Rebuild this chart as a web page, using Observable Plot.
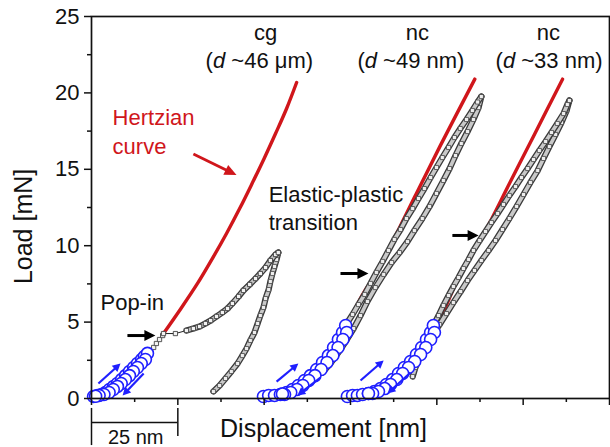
<!DOCTYPE html>
<html><head><meta charset="utf-8">
<script src="https://cdn.jsdelivr.net/npm/d3@7"></script>
<script src="https://cdn.jsdelivr.net/npm/@observablehq/plot@0.6"></script>
<style>html,body{margin:0;padding:0;background:#fff}</style>
</head><body><div id="chart"></div>
<script>
// ---------- data (displacement nm, load mN) ----------
const xTicks = [0, 25, 50, 75, 100, 125, 150];
const xMinorTicks = [12.5, 37.5, 62.5, 87.5, 112.5, 137.5];
const yTicks = [0, 5, 10, 15, 20, 25];
const yMinorTicks = [2.5, 7.5, 12.5, 17.5, 22.5];

// cg (d~46 µm)
const cgBlueLoad = [[0.6,0.13],[1.7,0.2],[2.9,0.26],[4.05,0.39],[5.2,0.59],[6.4,0.79],[7.5,0.98],[8.7,1.24],[9.85,1.5],[11.0,1.77],[12.2,2.03],[13.3,2.29],[14.5,2.55],[15.3,2.75],[16.2,2.95]];
const cgBlueUnload = [[15.6,2.55],[14.4,2.29],[13.3,2.03],[12.1,1.77],[11.0,1.5],[9.8,1.24],[8.6,0.98],[7.5,0.79],[6.3,0.59],[5.1,0.39],[3.6,0.26],[2.2,0.2],[1.2,0.15]];
const cgLoad = [[16.2,2.95],[17.1,3.14],[18.0,3.34],[18.8,3.6],[19.7,3.86],[20.6,4.12],[20.85,4.25],[24.3,4.25],[27.5,4.45],[29.5,4.58],[31.3,4.71],[33.0,4.91],[34.5,5.1],[36.2,5.37],[37.9,5.63],[39.4,5.89],[40.8,6.22],[42.6,6.68],[44.0,7.07],[45.8,7.46],[47.5,7.85],[48.9,8.18],[50.4,8.57],[51.8,9.03],[53.3,9.42],[54.1,9.55]];
const cgUnload = [[54.1,9.55],[53.6,9.1],[53.0,8.64],[52.4,8.18],[51.8,7.66],[51.3,7.13],[50.4,6.54],[49.8,5.96],[48.9,5.43],[48.1,4.91],[47.2,4.32],[46.0,3.8],[44.9,3.27],[43.7,2.81],[42.3,2.29],[40.5,1.77],[38.8,1.31],[37.1,0.85],[35.3,0.46]];
const cgHertz = [[20.85,4.25],[25.9,5.89],[30.7,7.53],[35.0,9.16],[39.1,10.8],[42.9,12.43],[46.5,14.07],[50.0,15.71],[53.3,17.34],[56.5,18.98],[59.4,20.68]];

// nc (d~49 nm)
const nc49BlueLoad = [[49.8,0.13],[51.3,0.2],[53.0,0.2],[54.7,0.26],[56.5,0.39],[58.2,0.59],[59.9,0.85],[61.7,1.18],[63.4,1.5],[65.2,1.9],[66.9,2.36],[68.6,2.81],[70.1,3.34],[71.5,3.86],[72.7,4.32],[73.6,4.78]];
const nc49BlueUnload = [[73.9,4.32],[72.8,3.86],[71.4,3.34],[69.9,2.81],[68.2,2.36],[66.5,1.9],[64.7,1.5],[62.9,1.18],[61.2,0.85],[59.5,0.59],[57.7,0.39],[55.9,0.26],[55.3,0.3]];
const nc49Load = [[73.55,4.78],[75.6,5.5],[77.3,6.15],[79.1,6.81],[80.8,7.53],[82.5,8.25],[84.3,8.97],[86.0,9.69],[87.7,10.41],[89.5,11.06],[91.2,11.78],[93.0,12.43],[94.7,13.09],[96.4,13.74],[98.2,14.46],[99.9,15.12],[101.6,15.77],[103.4,16.43],[105.1,17.08],[106.8,17.67],[108.6,18.26],[110.3,18.85],[111.8,19.4],[112.9,19.76]];
const nc49Unload = [[112.9,19.76],[112.1,19.04],[110.6,18.26],[108.9,17.47],[107.1,16.69],[105.4,15.9],[103.7,15.05],[101.9,14.27],[99.9,13.42],[97.9,12.57],[95.8,11.78],[93.5,10.99],[91.5,10.27],[89.2,9.55],[86.9,8.9],[84.6,8.12],[82.2,7.26],[79.9,6.35],[77.9,5.43],[75.9,4.58],[73.8,3.8],[71.5,3.01],[69.2,2.29],[66.9,1.7]];
const nc49Hertz = [[70.5,3.4],[75.0,5.3],[79.0,7.0],[82.7,8.2],[87.3,10.3],[93.6,13.2],[100.9,16.5],[111.0,20.9]];

// nc (d~33 nm)
const nc33BlueLoad = [[74.1,0.13],[75.6,0.2],[77.0,0.2],[78.5,0.26],[80.2,0.33],[81.9,0.46],[83.7,0.65],[85.4,0.92],[87.2,1.24],[88.9,1.64],[90.6,2.03],[92.4,2.42],[94.1,2.88],[95.6,3.34],[97.0,3.86],[98.2,4.32],[99.0,4.78]];
const nc33BlueUnload = [[99.3,4.32],[98.2,3.86],[96.8,3.34],[95.3,2.88],[93.6,2.42],[91.8,2.03],[90.1,1.64],[88.4,1.24],[86.6,0.92],[84.9,0.65],[83.1,0.46],[81.4,0.33],[80.2,0.33]];
const nc33Load = [[99.0,4.78],[100.5,5.43],[101.9,6.09],[103.4,6.74],[104.8,7.33],[106.3,7.92],[107.7,8.51],[109.2,9.1],[110.6,9.69],[112.4,10.34],[114.1,10.93],[115.8,11.52],[117.6,12.11],[119.3,12.7],[121.0,13.29],[122.8,13.87],[124.5,14.46],[126.3,15.05],[128.0,15.64],[129.7,16.23],[131.5,16.82],[133.2,17.41],[134.9,18.0],[136.7,18.65],[137.8,19.24],[138.4,19.5]];
const nc33Unload = [[138.4,19.5],[137.6,18.85],[136.1,18.06],[134.4,17.28],[132.6,16.49],[130.9,15.71],[129.2,14.92],[127.1,14.14],[125.1,13.35],[123.1,12.57],[121.0,11.78],[119.0,11.06],[117.0,10.34],[115.0,9.69],[112.9,9.03],[110.9,8.38],[108.9,7.72],[106.9,7.0],[104.8,6.28],[102.8,5.56],[100.8,4.84],[98.7,4.12],[96.7,3.4],[95.0,2.68],[93.8,2.03],[93.0,1.44]];
const nc33Hertz = [[96.0,3.4],[100.9,5.2],[106.6,8.05],[113.9,10.9],[121.1,14.1],[128.3,17.3],[136.4,20.9]];

// arrows [x1,y1,x2,y2]
const blackArrows = [[10.4,4.12,18.5,4.12],[72.1,8.18,80.2,8.18],[104.5,10.67,112.1,10.67]];
const blueArrows = [[2.0,0.98,8.4,2.29],[15.1,1.64,9.0,0.2],[53.6,1.1,59.9,2.29],[66.3,1.37,59.6,0.2],[77.9,1.18,84.6,2.49],[92.4,1.7,85.7,0.33]];
const redArrows = [[29.5,16.0,42.0,14.62]];

// text labels
const centeredLabels = ["cg","(d ~46 μm)","nc","(d ~49 nm)","nc","(d ~33 nm)"];
const leftLabels = ["Elastic-plastic","transition","Pop-in"];
const redLabels = ["Hertzian","curve"];
const xTitle = "Displacement [nm]";
const yTitle = "Load [mN]";
const scaleLabel = "25 nm";
const scaleBarLength = 25;

// ---------- layout (positions of annotations, data units) ----------
const centeredPos = [[50.4,23.45],[48.6,21.6],[94.4,23.45],[92.5,21.6],[132.3,23.45],[132.5,21.6]];
const leftPos = [[51.3,12.83],[51.3,11.0],[2.6,5.82]];
const redPos = [[6.1,17.87],[6.1,16.03]];

const FONT = "Liberation Sans, Arial, Helvetica, sans-serif";
const RED = "#d0161b";
const BLUE = "#1f1fff";
const BLACK = "#000000";
const X = d => d[0], Y = d => d[1];
const lbl = (names, pos) => names.map((t, i) => ({t, x: pos[i][0], y: pos[i][1]}));

const grayStrand = (data) => [
  Plot.line(data, {x: X, y: Y, stroke: "#3a3a3a", strokeWidth: 6.2, strokeLinejoin: "round"}),
  Plot.line(data, {x: X, y: Y, stroke: "#c9c9c9", strokeWidth: 3.6, strokeLinejoin: "round"}),
  Plot.dot(data, {x: X, y: Y, symbol: "square", r: 2.3, stroke: "#444", strokeWidth: 0.8, fill: "#eeeeee"})
];
const blueSet = (data) => Plot.dot(data, {x: X, y: Y, r: 6, stroke: BLUE, strokeWidth: 1.6, fill: "white"});
const hertz = (data) => Plot.line(data, {x: X, y: Y, stroke: RED, strokeWidth: 3.4, curve: "catmull-rom"});
const arrowLinks = (data, color, w) => Plot.link(data, {x1: d => d[0], y1: d => d[1], x2: d => d[2], y2: d => d[3], stroke: color, strokeWidth: w});

const chart = Plot.plot({
  width: 610, height: 447,
  marginLeft: 91, marginRight: 1, marginTop: 16, marginBottom: 49,
  style: {fontFamily: FONT, fontSize: "22px", color: "#111", background: "white", overflow: "visible"},
  x: {domain: [0, 150]},
  y: {domain: [0, 25]},
  marks: [
    hertz(cgHertz), hertz(nc49Hertz), hertz(nc33Hertz),
    ...grayStrand(cgUnload),
    Plot.line(cgLoad, {x: X, y: Y, stroke: "#222", strokeWidth: 1}),
    ...grayStrand(cgLoad.filter(d => d[0] > 27)),
    Plot.dot(cgLoad, {x: X, y: Y, symbol: "square", r: 2.4, stroke: "#444", strokeWidth: 0.9, fill: "#f2f2f2"}),
    ...grayStrand(nc49Unload), ...grayStrand(nc49Load),
    ...grayStrand(nc33Unload), ...grayStrand(nc33Load),
    blueSet(cgBlueLoad), blueSet(cgBlueUnload),
    blueSet(nc49BlueLoad), blueSet(nc49BlueUnload),
    blueSet(nc33BlueLoad), blueSet(nc33BlueUnload),
    arrowLinks(blackArrows, BLACK, 3),
    arrowLinks(blueArrows, BLUE, 2.2),
    arrowLinks(redArrows, RED, 2.8),
    Plot.frame({stroke: "#111", strokeWidth: 1.7}),
    Plot.axisY(yTicks, {tickSize: 7, tickPadding: 5, fontSize: 22, label: null, strokeWidth: 1.5}),
    Plot.axisY(yMinorTicks, {tickSize: 4, tickFormat: () => "", label: null, strokeWidth: 1.5}),
    Plot.axisX(xTicks, {tickSize: 7, tickFormat: () => "", label: null, strokeWidth: 1.5}),
    Plot.axisX(xMinorTicks, {tickSize: 4, tickFormat: () => "", label: null, strokeWidth: 1.5}),
    // scale bar below axis
    Plot.ruleX([0], {y1: -0.65, y2: -3.08, stroke: "#111", strokeWidth: 1.5}),
    Plot.ruleX([scaleBarLength], {y1: -0.65, y2: -2.49, stroke: "#111", strokeWidth: 1.5}),
    Plot.ruleY([-1.57], {x1: 0, x2: scaleBarLength, stroke: "#111", strokeWidth: 1.5}),
    Plot.text([scaleLabel], {x: scaleBarLength / 2 + 0.3, y: -2.95, text: d => d, fontSize: 20, lineAnchor: "bottom", fill: "#111"}),
    // axis titles
    Plot.text([xTitle], {x: 67.2, y: -2.55, text: d => d, fontSize: 25, lineAnchor: "bottom", fill: "#111"}),
    Plot.text([yTitle], {x: -17.1, y: 11.26, text: d => d, fontSize: 25, rotate: -90, lineAnchor: "bottom", fill: "#111"}),
    // annotations
    Plot.text(lbl(centeredLabels, centeredPos), {x: "x", y: "y", text: "t", textAnchor: "middle", fontSize: 22, lineAnchor: "bottom", fill: "#111"}),
    Plot.text(lbl(leftLabels, leftPos), {x: "x", y: "y", text: "t", textAnchor: "start", fontSize: 22, lineAnchor: "bottom", fill: "#111"}),
    Plot.text(lbl(redLabels, redPos), {x: "x", y: "y", text: "t", textAnchor: "start", fontSize: 22, lineAnchor: "bottom", fill: RED})
  ]
});

const NS = "http://www.w3.org/2000/svg";
// filled arrow heads on the link marks (identified by their stroke colour)
const headSizes = {[BLACK]: [11, 5.5], [BLUE]: [8, 4.2], [RED]: [12, 5.5]};
chart.querySelectorAll('g[aria-label="link"]').forEach(g => {
  let color = (g.getAttribute("stroke") || "").toLowerCase();
  if (!headSizes[color]) {
    const p0 = g.querySelector("path");
    color = ((p0 && p0.getAttribute("stroke")) || "").toLowerCase();
  }
  const hs = headSizes[color];
  if (!hs) return;
  const [L, W] = hs;
  g.querySelectorAll("path").forEach(p => {
    const n = (p.getAttribute("d") || "").match(/-?\d*\.?\d+(?:e[-+]?\d+)?/g);
    if (!n || n.length < 4) return;
    const [x1, y1, x2, y2] = n.slice(0, 4).map(Number);
    const len = Math.hypot(x2 - x1, y2 - y1), ux = (x2 - x1) / len, uy = (y2 - y1) / len;
    const bx = x2 - ux * L, by = y2 - uy * L;
    p.setAttribute("d", `M${x1},${y1}L${bx + ux},${by + uy}`);
    const tri = document.createElementNS(NS, "path");
    tri.setAttribute("d", `M${x2},${y2}L${bx - uy * W},${by + ux * W}L${bx + uy * W},${by - ux * W}Z`);
    tri.setAttribute("fill", color);
    tri.setAttribute("stroke", "none");
    p.parentNode.appendChild(tri);
  });
});

// italic "d" in grain-size labels
chart.querySelectorAll("text").forEach(el => {
  const s = el.textContent;
  if (s.startsWith("(d ")) {
    el.textContent = "";
    el.appendChild(document.createTextNode("("));
    const ts = document.createElementNS(NS, "tspan");
    ts.setAttribute("font-style", "italic");
    ts.textContent = "d";
    el.appendChild(ts);
    el.appendChild(document.createTextNode(s.slice(2)));
  }
});
document.getElementById("chart").appendChild(chart);
</script>
</body></html>
